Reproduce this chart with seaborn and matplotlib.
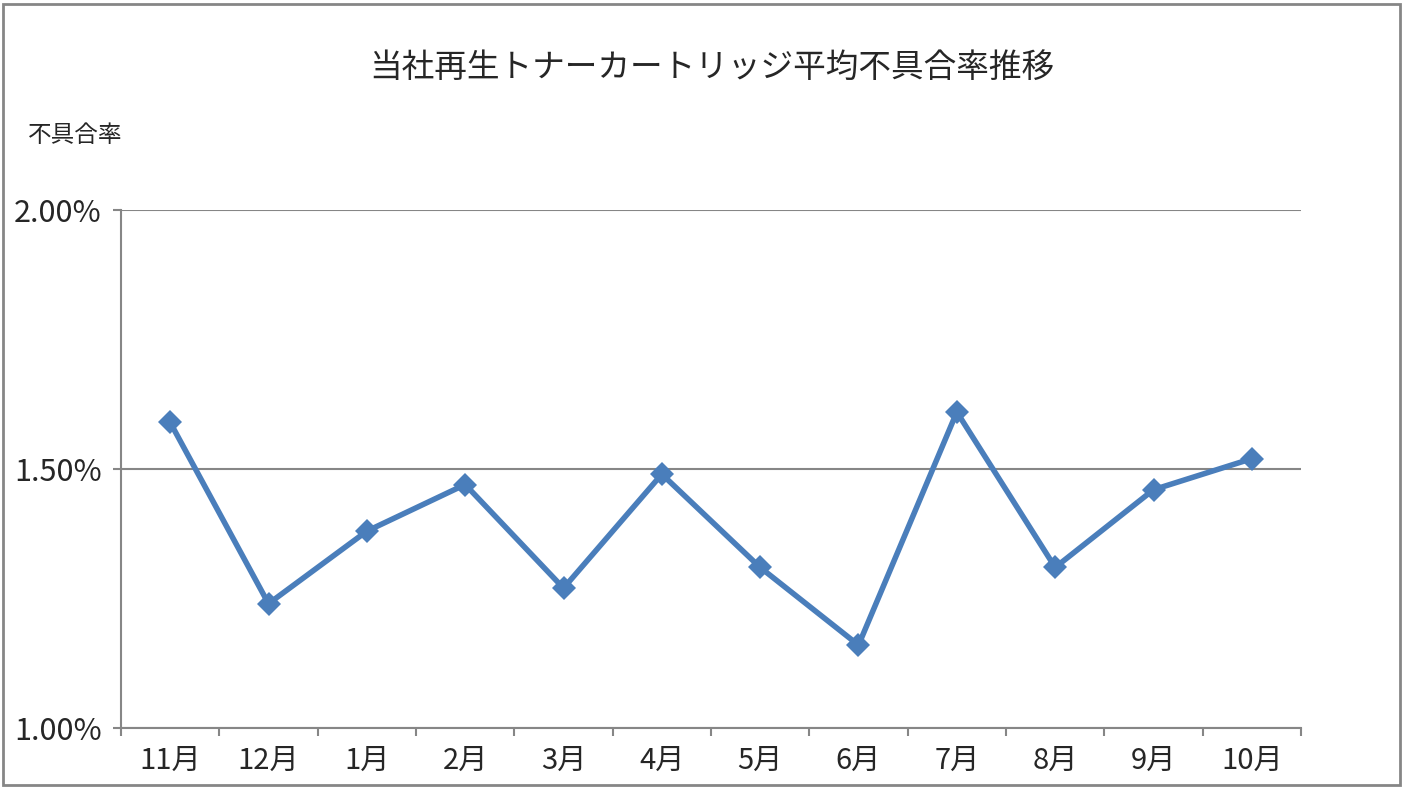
import matplotlib
matplotlib.use("Agg")
import matplotlib.pyplot as plt
import matplotlib.ticker as mticker
from matplotlib.patches import Rectangle
import pandas as pd
import seaborn as sns

months = ["11月", "12月", "1月", "2月", "3月", "4月", "5月", "6月", "7月", "8月", "9月", "10月"]
rates = [1.59, 1.24, 1.38, 1.47, 1.27, 1.49, 1.31, 1.16, 1.61, 1.31, 1.46, 1.52]
title = "当社再生トナーカートリッジ平均不具合率推移"
ylabel = "不具合率"


def main():
    sns.set_style("white")
    plt.rcParams['font.family'] = ['Noto Sans CJK JP', 'DejaVu Sans']

    data = pd.DataFrame({"month": months, "rate": rates})

    fig = plt.figure(figsize=(14.08, 7.89), dpi=100)
    ax = fig.add_axes([121 / 1408, 1 - 728 / 789, (1301 - 121) / 1408, (728 - 210) / 789])

    sns.lineplot(data=data, x="month", y="rate", sort=False, ax=ax,
                 color="#4A7EBB", linewidth=4, marker="D", markersize=12,
                 markeredgewidth=0, zorder=3)

    ax.set_ylim(1.0, 2.0)
    ax.set_xlim(-0.5, len(months) - 0.5)
    ax.yaxis.set_major_locator(mticker.MultipleLocator(0.5))
    ax.yaxis.set_major_formatter(mticker.FuncFormatter(lambda v, p: f"{v:.2f}%"))
    ax.grid(axis="y", color="#868686", linewidth=1.5)
    ax.set_axisbelow(True)

    # category boundaries get the tick marks, labels sit in the middle
    ax.set_xticks(range(len(months)))
    ax.set_xticklabels(months)
    ax.set_xticks([i - 0.5 for i in range(len(months) + 1)], minor=True)
    ax.tick_params(axis="x", which="major", length=0, pad=13, labelsize=21)
    ax.tick_params(axis="x", which="minor", length=6, width=1.5, color="#868686", direction="out")
    ax.tick_params(axis="y", length=6, width=1.5, color="#868686", direction="out",
                   pad=8, labelsize=22)
    ax.tick_params(bottom=True, left=True, which="both")
    ax.tick_params(axis="x", which="major", bottom=False)

    for side in ["top", "right"]:
        ax.spines[side].set_visible(False)
    for side in ["left", "bottom"]:
        ax.spines[side].set_color("#868686")
        ax.spines[side].set_linewidth(1.5)

    ax.set_xlabel("")
    ax.set_ylabel("")

    fig.text(712 / 1408, 1 - 68 / 789, title, ha="center", va="center", fontsize=23.5)
    fig.text(28 / 1408, 1 - 135 / 789, ylabel, ha="left", va="center", fontsize=17)

    fig.patches.append(Rectangle((3 / 1408, 4 / 789), 1397 / 1408, 781 / 789,
                                 transform=fig.transFigure, fill=False,
                                 edgecolor="#868686", linewidth=2))

    fig.savefig("out.png", dpi=100)


if __name__ == '__main__':
    main()
